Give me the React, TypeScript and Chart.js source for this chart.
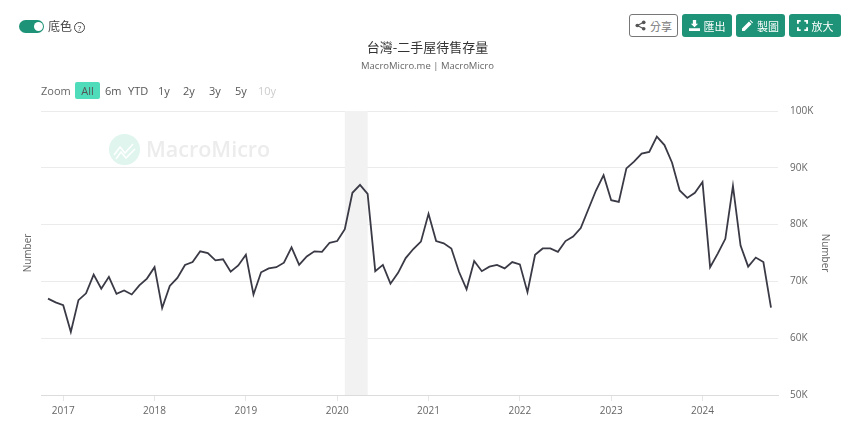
import React, { useEffect, useRef } from "react";
import { Chart, registerables } from "chart.js";

Chart.register(...registerables);

const TITLE = "台灣-二手屋待售存量";
const SUBTITLE = "MacroMicro.me | MacroMicro";
const AXIS_TITLE = "Number";
const WATERMARK = "MacroMicro";
const FONT = '"Noto Sans CJK TC", "Open Sans", sans-serif';
const LATIN = '"Open Sans", "Noto Sans CJK TC", sans-serif';

// Monthly values in thousands, first value is 2016-11
const START_YEAR = 2016;
const START_MONTH = 10;
const inventoryK = [
  66.96, 66.3, 65.8, 61.1, 66.7, 67.9, 71.2, 68.7, 70.8, 67.8, 68.4, 67.7,
  69.3, 70.5, 72.5, 65.3, 69.2, 70.6, 72.9, 73.4, 75.3, 75.0, 73.7, 73.9,
  71.7, 72.8, 74.7, 67.7, 71.6, 72.3, 72.5, 73.3, 76.0, 72.9, 74.4, 75.3,
  75.2, 76.8, 77.1, 79.2, 85.6, 87.0, 85.4, 71.8, 72.9, 69.6, 71.5, 74.1,
  75.7, 77.0, 81.9, 77.1, 76.7, 75.8, 71.7, 68.6, 73.6, 71.8, 72.6, 72.9,
  72.3, 73.4, 73.0, 68.1, 74.7, 75.8, 75.8, 75.2, 77.1, 77.9, 79.4, 82.7,
  86.0, 88.7, 84.3, 84.0, 89.9, 91.1, 92.5, 92.8, 95.5, 94.0, 90.9, 86.0,
  84.7, 85.6, 87.5, 72.5, 74.9, 77.5, 86.8, 76.3, 72.6, 74.2, 73.4, 65.4,
];
const yearTicks = [2017, 2018, 2019, 2020, 2021, 2022, 2023, 2024];
const yTicksK = [50, 60, 70, 80, 90, 100];
const recession = [39, 42]; // month offsets: 2020-02 to 2020-05
const rangeButtons = ["All", "6m", "YTD", "1y", "2y", "3y", "5y", "10y"];
const rangeX = [75, 105, 128, 158, 183, 209, 235, 258];

const monthOffset = (year: number) => (year - START_YEAR) * 12 - START_MONTH;
const points = inventoryK.map((v, i) => ({ x: i, y: v * 1000 }));

const bandPlugin = {
  id: "band",
  beforeDatasetsDraw(chart: any) {
    const { ctx, chartArea, scales } = chart;
    const a = scales.x.getPixelForValue(recession[0]);
    const b = scales.x.getPixelForValue(recession[1]);
    ctx.save();
    ctx.fillStyle = "#f2f2f2";
    ctx.fillRect(a, chartArea.top, b - a, chartArea.bottom - chartArea.top);
    ctx.restore();
  },
};

const titleShiftPlugin = {
  id: "titleShift",
  afterLayout(chart: any) {
    chart.boxes.forEach((b: any) => {
      if (!b.axis) {
        b.left += 3;
        b.right += 3;
      }
    });
  },
};

const watermarkPlugin = {
  id: "watermark",
  beforeDatasetsDraw(chart: any) {
    const { ctx } = chart;
    ctx.save();
    ctx.fillStyle = "#dff5ee";
    ctx.beginPath();
    ctx.arc(124.5, 149.5, 15.5, 0, Math.PI * 2);
    ctx.fill();
    ctx.strokeStyle = "#ffffff";
    ctx.lineWidth = 1.6;
    ctx.beginPath();
    ctx.moveTo(114, 155);
    ctx.lineTo(120, 147);
    ctx.lineTo(125, 153);
    ctx.lineTo(133, 144);
    ctx.moveTo(116, 159);
    ctx.lineTo(121, 152);
    ctx.lineTo(126, 158);
    ctx.lineTo(135, 149);
    ctx.stroke();
    ctx.fillStyle = "#ececec";
    ctx.font = `600 21.5px ${LATIN}`;
    ctx.textBaseline = "middle";
    ctx.fillText(WATERMARK, 146, 150.5);
    ctx.restore();
  },
};

const Btn = ({ left, width, label, icon, outline }: any) => (
  <div
    style={{
      position: "absolute",
      left,
      top: 14,
      width,
      height: 23,
      boxSizing: "border-box",
      borderRadius: 3,
      background: outline ? "#fff" : "#1f9377",
      border: outline ? "1px solid #777" : "none",
      color: outline ? "#777" : "#fff",
      fontFamily: FONT,
      fontSize: 11,
      display: "flex",
      alignItems: "center",
      justifyContent: "center",
      gap: 4,
    }}
  >
    <svg width="11" height="11" viewBox="0 0 12 12">{icon}</svg>
    <span>{label}</span>
  </div>
);

export default function App() {
  const ref = useRef<HTMLCanvasElement>(null);
  useEffect(() => {
    const chart = new Chart(ref.current as HTMLCanvasElement, {
      type: "line",
      data: {
        datasets: [
          {
            data: points,
            borderColor: "#3a3a46",
            borderWidth: 1.8,
            pointRadius: 0,
            tension: 0,
            yAxisID: "y",
          },
        ],
      },
      options: {
        animation: false,
        responsive: false,
        parsing: false,
        normalized: true,
        layout: { padding: { left: 0, right: 0, top: 0, bottom: 0 } },
        plugins: {
          legend: { display: false },
          tooltip: { enabled: false },
          title: {
            display: true,
            text: TITLE,
            color: "#333333",
            font: { family: FONT, size: 13, weight: "normal" },
            padding: { top: 39, bottom: 6 },
          },
          subtitle: {
            display: true,
            text: SUBTITLE,
            color: "#666666",
            font: { family: LATIN, size: 9.5, weight: "normal" },
            padding: { top: 0, bottom: 39 },
          },
        },
        scales: {
          x: {
            type: "linear",
            min: -0.92,
            max: 95.92,
            afterBuildTicks(axis: any) {
              axis.ticks = yearTicks.map((y) => ({ value: monthOffset(y) }));
            },
            afterFit(axis: any) {
              axis.height = 32;
            },
            ticks: {
              autoSkip: false,
              maxRotation: 0,
              color: "#666666",
              padding: 4,
              font: { family: LATIN, size: 10 },
              callback: (v: any) => String(START_YEAR + Math.floor((Number(v) + START_MONTH) / 12)),
            },
            grid: { display: true, drawOnChartArea: false, drawTicks: true, tickLength: 6, color: "#e6e6e6" },
            border: { color: "#dcdcdc" },
          },
          y: {
            type: "linear",
            position: "right",
            min: 50000,
            max: 100000,
            afterBuildTicks(axis: any) {
              axis.ticks = yTicksK.map((v) => ({ value: v * 1000 }));
            },
            afterFit(axis: any) {
              axis.width = 71;
            },
            ticks: {
              color: "#666666",
              padding: 12,
              font: { family: LATIN, size: 10 },
              callback: (v: any) => `${Number(v) / 1000}K`,
            },
            grid: { color: "#ebebeb", drawTicks: false },
            border: { display: false },
            title: {
              display: true,
              text: AXIS_TITLE,
              color: "#666666",
              font: { family: LATIN, size: 10 },
              padding: { top: 18, bottom: 0 },
            },
          },
          yLeft: {
            type: "linear",
            position: "left",
            min: 50000,
            max: 100000,
            afterFit(axis: any) {
              axis.width = 41;
            },
            ticks: { display: false },
            grid: { display: false, drawTicks: false },
            border: { display: false },
            title: {
              display: true,
              text: AXIS_TITLE,
              color: "#666666",
              font: { family: LATIN, size: 10 },
              padding: { top: 22, bottom: 0 },
            },
          },
        },
      } as any,
      plugins: [titleShiftPlugin, bandPlugin, watermarkPlugin],
    });
    return () => chart.destroy();
  }, []);

  return (
    <div style={{ position: "absolute", left: 0, top: 0, width: 849, height: 427, background: "#fff", overflow: "hidden" }}>
      <canvas ref={ref} width={849} height={427} style={{ position: "absolute", left: 0, top: 0, width: 849, height: 427 }} />

      <div style={{ position: "absolute", left: 19, top: 20, width: 25, height: 13, borderRadius: 7, background: "#1f9377" }}>
        <div style={{ position: "absolute", right: 1.5, top: 2, width: 9, height: 9, borderRadius: 5, background: "#fff" }} />
      </div>
      <div style={{ position: "absolute", left: 48, top: 17, fontFamily: FONT, fontSize: 12, lineHeight: "17px", color: "#444" }}>底色</div>
      <div style={{ position: "absolute", left: 74, top: 22, width: 9, height: 9, border: "1px solid #444", borderRadius: 6, fontFamily: LATIN, fontSize: 8, lineHeight: "9px", textAlign: "center", color: "#444" }}>?</div>

      <Btn left={629} width={49} label="分享" outline icon={<g fill="#555"><circle cx="9.5" cy="2.5" r="2" /><circle cx="9.5" cy="9.5" r="2" /><circle cx="2.5" cy="6" r="2" /><path d="M2.5 6 9.5 2.5M2.5 6l7 3.5" stroke="#555" strokeWidth="1.2" /></g>} />
      <Btn left={682} width={50} label="匯出" icon={<path fill="#fff" d="M4.2 0h3.6v4.2H10L6 8 2 4.2h2.2zM0 9h12v3H0z" />} />
      <Btn left={736} width={49} label="製圖" icon={<path fill="#fff" d="M0 12V9.2L7.6 1.6l2.8 2.8L2.8 12zM8.4.8 9.2 0 12 2.8l-.8.8z" />} />
      <Btn left={789} width={52} label="放大" icon={<path fill="none" stroke="#fff" strokeWidth="2" d="M1 4V1h3M8 1h3v3M11 8v3H8M4 11H1V8" />} />

      <div style={{ position: "absolute", left: 41, top: 82, fontFamily: LATIN, fontSize: 11, lineHeight: "17px", color: "#666" }}>Zoom</div>
      <div style={{ position: "absolute", left: 75, top: 82, width: 25, height: 17, background: "#4fdcba", borderRadius: 2 }} />
      {rangeButtons.map((b, i) => (
        <div
          key={b}
          style={{
            position: "absolute",
            left: rangeX[i],
            top: 82,
            width: i === 0 ? 25 : undefined,
            textAlign: "center",
            fontFamily: LATIN,
            fontSize: 11,
            lineHeight: "17px",
            color: b === "10y" ? "#cccccc" : "#555",
          }}
        >
          {b}
        </div>
      ))}
    </div>
  );
}
